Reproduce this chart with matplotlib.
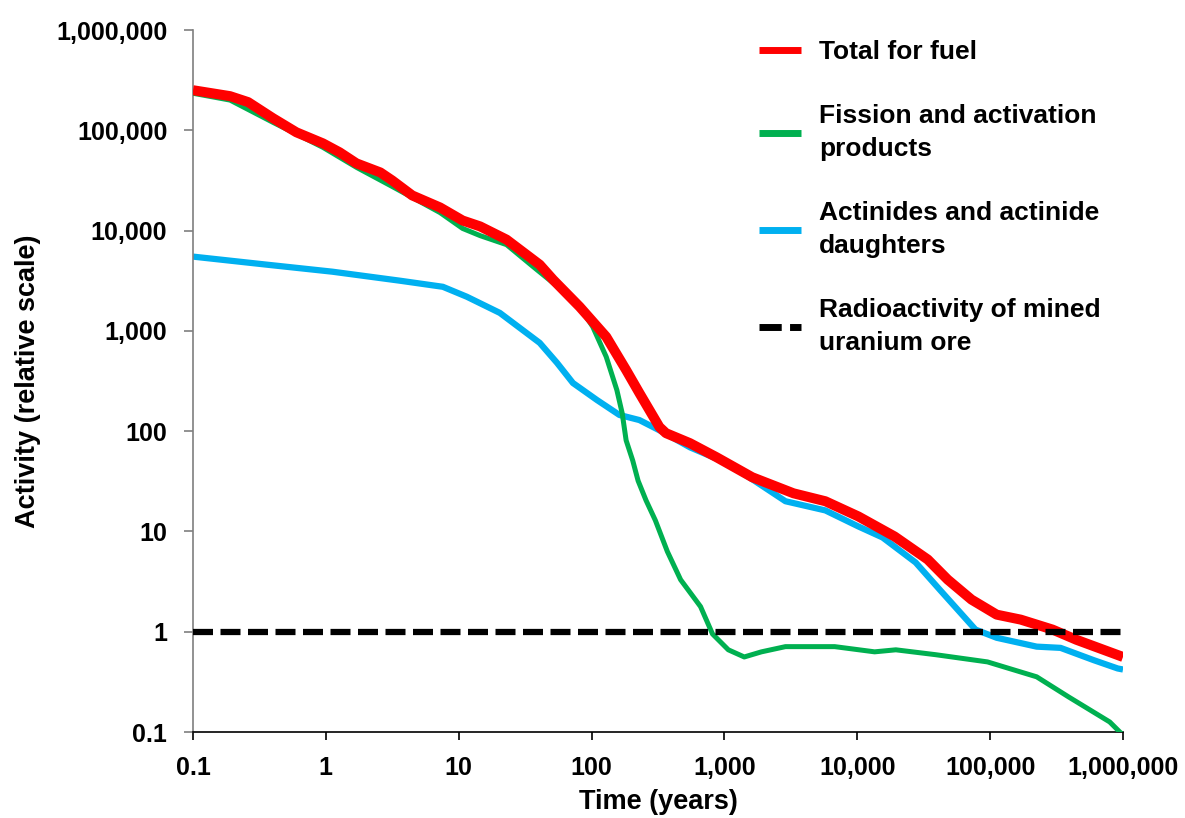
import numpy as np
import matplotlib
matplotlib.use("Agg")
import matplotlib.pyplot as plt

plt.rcParams['font.family'] = ['Liberation Sans', 'DejaVu Sans']
plt.rcParams['font.weight'] = 'bold'

# values (time in years, activity on relative scale)
time_total = [0.1, 0.19, 0.26, 0.40, 0.60, 0.95, 1.27, 1.70, 2.57, 3.16, 4.47, 7.24, 10.7,
              14.5, 22.9, 40.7, 51.3, 81.3, 129, 182, 229, 324, 363, 550, 871, 1620,
              3310, 5750, 10200, 19100, 33900, 47900, 72400, 112000, 170000, 295000,
              447000, 1000000]
activity_total = [251000, 219000, 191000, 132000, 95500, 74100, 60300, 46800, 38000,
                  31600, 22400, 17000, 12600, 11000, 8130, 4570, 3240, 1740, 871, 407,
                  240, 110, 95.5, 75.9, 55, 34.7, 24, 20, 14.1, 8.9, 5.25, 3.31, 2.09,
                  1.48, 1.32, 1.05, 0.83, 0.56]

time_fission = [0.1, 0.19, 0.40, 0.95, 1.70, 3.16, 7.24, 10.7, 14.5, 22.9, 36.3, 47.9,
                77.6, 102, 129, 155, 170, 182, 204, 224, 257, 302, 372, 468, 661, 813,
                1070, 1410, 1900, 2880, 6760, 13500, 19500, 38900, 95500, 224000,
                389000, 794000, 1000000]
activity_fission = [234000, 200000, 120000, 67600, 42700, 27500, 15100, 10500, 8900,
                    7240, 4370, 3240, 1900, 1100, 550, 257, 151, 81, 51, 32, 20.4, 12.9,
                    6.3, 3.3, 1.78, 0.95, 0.66, 0.56, 0.63, 0.71, 0.71, 0.63, 0.66, 0.59,
                    0.50, 0.355, 0.224, 0.126, 0.093]

time_actinides = [0.1, 0.36, 1.12, 3.63, 7.6, 11.5, 20.4, 40.7, 55, 72.4, 110, 162, 229,
                  324, 550, 1050, 1660, 2880, 5750, 10200, 15500, 27500, 41700, 77600,
                  112000, 224000, 339000, 603000, 912000, 1000000]
activity_actinides = [5500, 4570, 3890, 3160, 2750, 2190, 1510, 759, 479, 302, 204, 145,
                      129, 102, 69, 47.9, 32.4, 20, 16.2, 11.2, 8.7, 4.9, 2.63, 1.05,
                      0.87, 0.71, 0.69, 0.52, 0.43, 0.42]

time_ore = [0.1, 1000000]
activity_ore = [1, 1]

labels = ["Total for fuel", "Fission and activation\nproducts",
          "Actinides and actinide\ndaughters", "Radioactivity of mined\nuranium ore"]

decades = [0.1, 1, 10, 100, 1000, 10000, 100000, 1000000]
decade_labels = ["0.1", "1", "10", "100", "1,000", "10,000", "100,000", "1,000,000"]

tick_fs = 18
label_fs = 19.5
legend_fs = 19

fig = plt.figure(figsize=(11.85, 8.18), dpi=100)
ax = fig.add_axes([193 / 1185, 1 - 732 / 818, (1123 - 193) / 1185, (732 - 30) / 818])

l_blue, = ax.plot(time_actinides, activity_actinides, color='#00B0F0', lw=4.5,
                  solid_joinstyle='round', solid_capstyle='butt', zorder=2)
l_green, = ax.plot(time_fission, activity_fission, color='#00B050', lw=3.6,
                   solid_joinstyle='round', solid_capstyle='butt', zorder=3)
l_red, = ax.plot(time_total, activity_total, color='#FF0000', lw=7.2,
                 solid_joinstyle='round', solid_capstyle='butt', zorder=4)
l_ore, = ax.plot(time_ore, activity_ore, color='black', lw=4.5, dashes=(3.2, 1.2),
                 zorder=5)

ax.set_xscale('log')
ax.set_yscale('log')
ax.set_xlim(0.1, 1000000)
ax.set_ylim(0.1, 1000000)

ax.set_xticks(decades)
ax.set_xticklabels(decade_labels)
ax.set_yticks(decades)
ax.set_yticklabels(decade_labels)
ax.minorticks_off()

for s in ['top', 'right']:
    ax.spines[s].set_visible(False)
ax.spines['left'].set_color('#7f7f7f')
ax.spines['left'].set_linewidth(1.2)
ax.spines['bottom'].set_color('black')
ax.spines['bottom'].set_linewidth(1.2)
ax.tick_params(axis='y', direction='out', length=6.5, width=1.2, color='#7f7f7f',
               pad=12, labelsize=tick_fs)
ax.tick_params(axis='x', direction='out', length=6, width=1.2, color='black',
               pad=11, labelsize=tick_fs)
for t in ax.get_xticklabels() + ax.get_yticklabels():
    t.set_fontweight('bold')

ax.set_xlabel("Time (years)", fontsize=label_fs, fontweight='bold', labelpad=7)
ax.set_ylabel("Activity (relative scale)", fontsize=label_fs, fontweight='bold',
              labelpad=11)

leg = ax.legend([l_red, l_green, l_blue, l_ore], labels,
                loc='upper left', bbox_to_anchor=(759 / 1185, 1 - 40 / 818),
                bbox_transform=fig.transFigure, frameon=False, borderpad=0,
                borderaxespad=0, handlelength=1.6, handletextpad=0.68,
                labelspacing=1.5, prop={'size': legend_fs, 'weight': 'bold'})
for line in leg.get_lines():
    line.set_linewidth(5)
for t in leg.get_texts():
    t.set_linespacing(1.5)

fig.savefig("out.png", dpi=100, facecolor='white')
